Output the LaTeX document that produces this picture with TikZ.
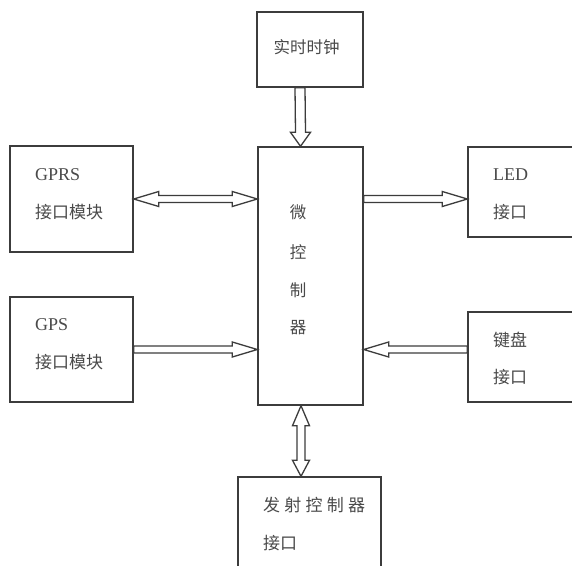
\documentclass[tikz,border=0pt]{standalone}
\usepackage{fontspec}
\setmainfont{Liberation Serif}
\newfontfamily\cjk{Noto Sans CJK SC}
\usetikzlibrary{calc}
\definecolor{ln}{HTML}{3C3C3C}
\definecolor{tx}{HTML}{4A4A4A}
\tikzset{
  box/.style={draw=ln, line width=1.4pt, minimum width=#1, inner sep=0pt},
  fat/.style={draw=ln, line width=1.3pt, fill=white, line join=miter},
  lab/.style={text=tx, inner sep=0pt, anchor=west, font=\cjk\fontsize{17}{17}\selectfont},
  latin/.style={text=tx, inner sep=0pt, anchor=west, font=\fontsize{18}{18}\selectfont},
  cch/.style={text=tx, inner sep=0pt, font=\cjk\fontsize{16.5}{16.5}\selectfont}
}
\newcommand\fatright[2]{\draw[fat] ($(#1)+(0,-3.5)$) -- ($(#2)+(-25,-3.5)$) -- ($(#2)+(-25,-7.5)$) -- (#2) -- ($(#2)+(-25,7.5)$) -- ($(#2)+(-25,3.5)$) -- ($(#1)+(0,3.5)$) -- cycle;}
\newcommand\fatleft[2]{\draw[fat] ($(#1)+(0,-3.5)$) -- ($(#2)+(25,-3.5)$) -- ($(#2)+(25,-7.5)$) -- (#2) -- ($(#2)+(25,7.5)$) -- ($(#2)+(25,3.5)$) -- ($(#1)+(0,3.5)$) -- cycle;}
\newcommand\fatboth[2]{\draw[fat] (#1) -- ($(#1)+(25,-7.5)$) -- ($(#1)+(25,-3.5)$) -- ($(#2)+(-25,-3.5)$) -- ($(#2)+(-25,-7.5)$) -- (#2) -- ($(#2)+(-25,7.5)$) -- ($(#2)+(-25,3.5)$) -- ($(#1)+(25,3.5)$) -- ($(#1)+(25,7.5)$) -- cycle;}
\begin{document}
\begin{tikzpicture}[x=1pt,y=-1pt]
\useasboundingbox (0,0) rectangle (572,565);
\clip (0,0) rectangle (572,565);
\fill[white] (0,0) rectangle (572,565);
% boxes
\node[box=106pt, minimum height=75pt] (clock) at (310,49.5) {};
\node[box=105pt, minimum height=258pt] (micro) at (310.5,276) {};
\node[box=123pt, minimum height=106pt] (gprs) at (71.5,199) {};
\node[box=123pt, minimum height=105pt] (gps) at (71.5,349.5) {};
\node[box=132pt, minimum height=90pt] (led) at (534,192) {};
\node[box=132pt, minimum height=90pt] (key) at (534,357) {};
\node[box=143pt, minimum height=123pt] (txb) at (309.5,538.5) {};
% texts
\node[cch] (tclock) at (306.5,47) {实时时钟};
\node[latin] (tgprs) at (35,175) {GPRS};
\node[lab] (tgprs2) at (35,212) {接口模块};
\node[latin] (tgps) at (35,325) {GPS};
\node[lab] (tgps2) at (35,362) {接口模块};
\node[latin] (tled) at (493,175) {LED};
\node[lab] (tled2) at (493,212) {接口};
\node[lab] (tkey) at (493,340) {键盘};
\node[lab] (tkey2) at (493,377) {接口};
\node[cch] (m1) at (298,212) {微};
\node[cch] (m2) at (298,252) {控};
\node[cch] (m3) at (298,290) {制};
\node[cch] (m4) at (298,328) {器};
\node[lab] (ttx) at (263,505) {发\kern4.2pt 射\kern4.2pt 控\kern4.2pt 制\kern4.2pt 器};
\node[lab] (ttx2) at (263,543) {接口};
% connectors
\fatboth{gprs.east}{micro.west |- gprs.east}
\fatright{gps.east}{micro.west |- gps.east}
\fatright{micro.east |- gprs.east}{led.west |- gprs.east}
\fatleft{key.west |- gps.east}{micro.east |- gps.east}
\coordinate (ca) at ($(clock.south)+(-10,0)$);
\coordinate (cb) at ($(micro.north)+(-10,0)$);
\draw[fat] ($(ca)+(-5,0)$) -- ($(cb)+(-5,-14)$) -- ($(cb)+(-10,-14)$) -- (cb) -- ($(cb)+(10,-14)$) -- ($(cb)+(5,-14)$) -- ($(ca)+(5,0)$) -- cycle;
\coordinate (da) at ($(micro.south)+(-9.5,0)$);
\coordinate (db) at ($(txb.north)+(-8.5,0)$);
\draw[fat] (da) -- ($(da)+(8.5,20)$) -- ($(da)+(4,20)$) -- ($(db)+(4,-16)$) -- ($(db)+(8.5,-16)$) -- (db) -- ($(db)+(-8.5,-16)$) -- ($(db)+(-4,-16)$) -- ($(da)+(-4,20)$) -- ($(da)+(-8.5,20)$) -- cycle;
\end{tikzpicture}
\end{document}
